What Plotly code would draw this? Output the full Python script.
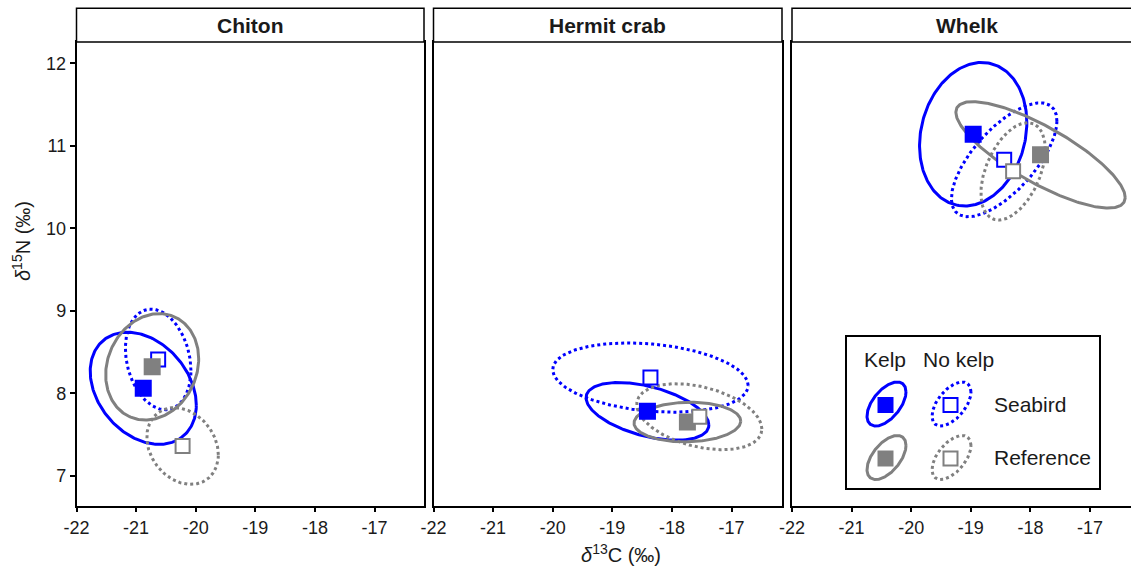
import numpy as np
import plotly.graph_objects as go

# ---------------- data ----------------
species = ["Chiton", "Hermit crab", "Whelk"]
x_ticks = [-22, -21, -20, -19, -18, -17]
y_ticks = [7, 8, 9, 10, 11, 12]

# centroid δ13C, centroid δ15N, ellipse half-extent in δ13C, half-extent in δ15N, tilt (correlation)
kelp_seabird_c = [-20.88, -18.41, -18.96]
kelp_seabird_n = [8.06, 7.78, 11.14]
kelp_seabird_wc = [0.89, 1.03, 0.90]
kelp_seabird_wn = [0.68, 0.35, 0.87]
kelp_seabird_r = [-0.30, -0.47, 0.16]

nokelp_seabird_c = [-20.63, -18.36, -18.44]
nokelp_seabird_n = [8.41, 8.19, 10.83]
nokelp_seabird_wc = [0.55, 1.64, 0.885]
nokelp_seabird_wn = [0.61, 0.42, 0.69]
nokelp_seabird_r = [-0.22, -0.23, 0.68]

kelp_reference_c = [-20.73, -17.74, -17.83]
kelp_reference_n = [8.32, 7.65, 10.89]
kelp_reference_wc = [0.78, 0.895, 1.42]
kelp_reference_wn = [0.645, 0.24, 0.645]
kelp_reference_r = [0.15, 0.05, -0.80]

nokelp_reference_c = [-20.22, -17.54, -18.29]
nokelp_reference_n = [7.36, 7.715, 10.69]
nokelp_reference_wc = [0.60, 1.05, 0.54]
nokelp_reference_wn = [0.465, 0.40, 0.59]
nokelp_reference_r = [-0.23, -0.37, 0.45]

legend_cols = ["Kelp", "No kelp"]
legend_rows = ["Seabird", "Reference"]

# ---------------- styles ----------------
BLUE = "#0000FF"
GRAY = "#808080"
groups = [
    dict(c=kelp_seabird_c, n=kelp_seabird_n, wc=kelp_seabird_wc, wn=kelp_seabird_wn, r=kelp_seabird_r,
         color=BLUE, dash="solid", filled=True),
    dict(c=nokelp_seabird_c, n=nokelp_seabird_n, wc=nokelp_seabird_wc, wn=nokelp_seabird_wn, r=nokelp_seabird_r,
         color=BLUE, dash="dot", filled=False),
    dict(c=kelp_reference_c, n=kelp_reference_n, wc=kelp_reference_wc, wn=kelp_reference_wn, r=kelp_reference_r,
         color=GRAY, dash="solid", filled=True),
    dict(c=nokelp_reference_c, n=nokelp_reference_n, wc=nokelp_reference_wc, wn=nokelp_reference_wn, r=nokelp_reference_r,
         color=GRAY, dash="dot", filled=False),
]

W, H = 1131, 568
FONT = "Liberation Sans, Arial, sans-serif"
INK = "#1a1a1a"


def px_x(p):
    return p / W


def px_y(p):
    return 1 - p / H


def ellipse(cx, cy, wx, wy, r, n=240):
    t = np.linspace(0, 2 * np.pi, n)
    x = cx + wx * np.cos(t)
    y = cy + wy * (r * np.cos(t) + np.sqrt(1 - r * r) * np.sin(t))
    return x, y


PX_PER_C = 59.6
panel_px = [(76.5, 424.0), (433.5, 782.0), (792.0, 1131.0)]
y_top_px, y_bot_px = 42.0, 505.7
y_range = [7 - (y_bot_px - 475.7) / 82.5, 12 + (63.3 - y_top_px) / 82.5]

fig = go.Figure()

for i, sp in enumerate(species):
    xa = "x" if i == 0 else f"x{i+1}"
    ya = "y" if i == 0 else f"y{i+1}"
    for g in groups:
        ex, ey = ellipse(g["c"][i], g["n"][i], g["wc"][i], g["wn"][i], g["r"][i])
        fig.add_trace(go.Scatter(x=ex, y=ey, mode="lines", xaxis=xa, yaxis=ya,
                                 line=dict(color=g["color"], width=3, dash=g["dash"]),
                                 hoverinfo="skip", showlegend=False))
    for g in groups:
        if g["filled"]:
            mk = dict(symbol="square", size=17, color=g["color"], line=dict(width=0))
        else:
            mk = dict(symbol="square", size=14, color="white", line=dict(width=2, color=g["color"]))
        fig.add_trace(go.Scatter(x=[g["c"][i]], y=[g["n"][i]], mode="markers", xaxis=xa, yaxis=ya,
                                 marker=mk, showlegend=False))

# ---------------- legend (own axis in pixel units) ----------------
LB = dict(x0=847, x1=1099, y0=337, y1=488)
leg_w, leg_h = LB["x1"] - LB["x0"], LB["y1"] - LB["y0"]
leg_col_x = [39.5, 104.5]
leg_row_y = [84, 30.5]
for ri, row in enumerate(legend_rows):
    for ci, col in enumerate(legend_cols):
        g = groups[ri * 2 + ci]
        ex, ey = ellipse(leg_col_x[ci], leg_row_y[ri], 19.5, 22, 0.55)
        fig.add_trace(go.Scatter(x=ex, y=ey, mode="lines", xaxis="x4", yaxis="y4",
                                 line=dict(color=g["color"], width=3, dash=g["dash"]),
                                 hoverinfo="skip", showlegend=False))
        if g["filled"]:
            mk = dict(symbol="square", size=16, color=g["color"], line=dict(width=0))
        else:
            mk = dict(symbol="square", size=14, color="white", line=dict(width=2, color=g["color"]))
        fig.add_trace(go.Scatter(x=[leg_col_x[ci] - 1], y=[leg_row_y[ri] - 1], mode="markers",
                                 xaxis="x4", yaxis="y4", marker=mk, showlegend=False))

annotations = []
for ci, col in enumerate(legend_cols):
    annotations.append(dict(x=[38, 111][ci], y=129, xref="x4", yref="y4", text=col, showarrow=False,
                            font=dict(size=21, family=FONT, color=INK), xanchor="center", yanchor="middle"))
for ri, row in enumerate(legend_rows):
    annotations.append(dict(x=145, y=leg_row_y[ri], xref="x4", yref="y4", text=row, showarrow=False,
                            font=dict(size=21, family=FONT, color=INK), xanchor="left", yanchor="middle"))

# ---------------- axes / strips ----------------
layout = dict(width=W, height=H, margin=dict(l=0, r=0, t=0, b=0, pad=0, autoexpand=False),
              paper_bgcolor="white", plot_bgcolor="white", showlegend=False)
shapes = []
for i, sp in enumerate(species):
    p0, p1 = panel_px[i]
    dom = [px_x(p0), min(1.0, px_x(p1))]
    xr = [-22, -22 + (p1 - p0) / PX_PER_C]
    xkey = "xaxis" if i == 0 else f"xaxis{i+1}"
    ykey = "yaxis" if i == 0 else f"yaxis{i+1}"
    anchor_y = "y" if i == 0 else f"y{i+1}"
    anchor_x = "x" if i == 0 else f"x{i+1}"
    layout[xkey] = dict(domain=dom, range=xr, anchor=anchor_y, tickvals=x_ticks,
                        ticktext=[str(v) for v in x_ticks], ticks="outside", ticklen=5, tickwidth=1.5,
                        tickcolor="black", showline=True, linecolor="black", linewidth=1.5, mirror=True,
                        showgrid=False, zeroline=False, automargin=False,
                        tickfont=dict(size=18, family=FONT, color=INK))
    ydict = dict(domain=[px_y(y_bot_px), px_y(y_top_px)], range=y_range, anchor=anchor_x,
                 showline=True, linecolor="black", linewidth=1.5, mirror=(i < 2),
                 showgrid=False, zeroline=False, automargin=False)
    if i == 0:
        ydict.update(tickvals=y_ticks, ticktext=[str(v) for v in y_ticks], ticks="outside", ticklen=5,
                     tickwidth=1.5, tickcolor="black", tickfont=dict(size=18, family=FONT, color=INK))
    else:
        ydict.update(showticklabels=False, ticks="")
    layout[ykey] = ydict
    shapes.append(dict(type="rect", xref="paper", yref="paper", x0=px_x(p0),
                       x1=(px_x(p1) if i < 2 else 1.02), y0=px_y(y_top_px), y1=px_y(8.3),
                       line=dict(color="black", width=1.5), fillcolor="white", layer="above"))
    annotations.append(dict(x=px_x((p0 + p1 + (10 if i == 2 else 0)) / 2), y=px_y(25.5),
                            xref="paper", yref="paper", text=f"<b>{sp}</b>", showarrow=False,
                            font=dict(size=21, family=FONT, color=INK), xanchor="center", yanchor="middle"))

layout["xaxis4"] = dict(domain=[px_x(LB["x0"]), px_x(LB["x1"])], range=[0, leg_w], anchor="y4",
                        showline=True, linecolor="black", linewidth=1.5, mirror=True,
                        showticklabels=False, ticks="", showgrid=False, zeroline=False)
layout["yaxis4"] = dict(domain=[px_y(LB["y1"]), px_y(LB["y0"])], range=[0, leg_h], anchor="x4",
                        showline=True, linecolor="black", linewidth=1.5, mirror=True,
                        showticklabels=False, ticks="", showgrid=False, zeroline=False)

annotations.append(dict(x=px_x(621), y=px_y(553), xref="paper", yref="paper",
                        text="<i>δ</i><sup>13</sup>C (‰)", showarrow=False,
                        font=dict(size=20, family=FONT, color=INK), xanchor="center", yanchor="middle"))
annotations.append(dict(x=px_x(22), y=px_y(241), xref="paper", yref="paper",
                        text="<i>δ</i><sup>15</sup>N (‰)", showarrow=False, textangle=-90,
                        font=dict(size=20, family=FONT, color=INK), xanchor="center", yanchor="middle"))

layout["shapes"] = shapes
layout["annotations"] = annotations
fig.update_layout(**layout)
fig.write_html("out.html")
